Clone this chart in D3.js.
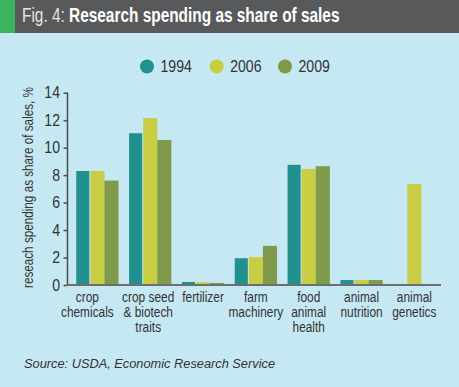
<!DOCTYPE html>
<html><head><meta charset="utf-8">
<script src="https://cdn.jsdelivr.net/npm/d3@7"></script>
<style>body{margin:0;padding:0;background:#c5e8f3;}svg{display:block;}</style>
</head><body>
<svg id="chart" width="459" height="387"></svg>
<script>
const categories = [["crop","chemicals"],["crop seed","& biotech","traits"],["fertilizer"],["farm","machinery"],["food","animal","health"],["animal","nutrition"],["animal","genetics"]];
const seriesNames = ["1994","2006","2009"];
const values1994 = [8.3, 11.05, 0.22, 1.95, 8.75, 0.36, null];
const values2006 = [8.3, 12.15, 0.2, 2.03, 8.45, 0.36, 7.35];
const values2009 = [7.6, 10.55, 0.15, 2.85, 8.65, 0.36, null];
const colors = ["#21908f", "#c9cd44", "#7e9a4a"];
const yTicks = [0, 2, 4, 6, 8, 10, 12, 14];

const font = "'Liberation Sans',Arial,sans-serif";
const svg = d3.select("#chart");
svg.append("rect").attr("width",459).attr("height",387).attr("fill","#c5e8f3");
svg.append("rect").attr("width",459).attr("height",33).attr("fill","#58595b");
svg.append("rect").attr("width",15).attr("height",33).attr("fill","#3db35f");

// condensed text helper: group scaled horizontally
function ctext(cx, cy, sx, anchor) {
  return svg.append("g").attr("transform", `translate(${cx},${cy}) scale(${sx},1)`)
    .append("text").attr("text-anchor", anchor).attr("fill","#333").style("font-family",font);
}

const title = ctext(22, 22, 0.79, "start").attr("fill","#fff").style("font-size","19.5px");
title.append("tspan").text("Fig. 4: ").attr("fill","#e6e6e6");
title.append("tspan").text("Research spending as share of sales").style("font-weight","bold");

const y = d3.scaleLinear().domain([0,14]).range([285, 92.7]);
const x0 = d3.scaleBand().domain(d3.range(categories.length)).range([68, 441]).paddingInner(0.2).paddingOuter(0.13).align(0.6);
const x1 = d3.scaleBand().domain(seriesNames).range([0, x0.bandwidth()]);

const seriesVals = [values1994, values2006, values2009];
seriesNames.forEach((s, si) => {
  svg.append("g").selectAll("rect").data(seriesVals[si].map((v,i)=>({v,i})).filter(d=>d.v!==null))
    .join("rect")
    .attr("x", d => x0(d.i) + x1(s))
    .attr("width", x1.bandwidth() - (si===0 ? 1 : 0))
    .attr("y", d => y(d.v))
    .attr("height", d => y(0) - y(d.v))
    .attr("fill", colors[si]);
});

// y axis
const yAxis = svg.append("g").attr("transform","translate(67.5,0)")
  .call(d3.axisLeft(y).tickValues(yTicks).tickSize(4).tickPadding(4).tickFormat(()=>""));
yAxis.select(".domain").attr("stroke","#4d4d4f").attr("stroke-width",1.5).attr("d","M0,92.7V285");
yAxis.selectAll(".tick line").attr("stroke","#4d4d4f").attr("stroke-width",1.5);
yTicks.forEach(t => {
  ctext(60, y(t) + 5.5, 0.88, "end").style("font-size","16px").text(t);
});

// x axis baseline
svg.append("line").attr("x1",66.5).attr("x2",441).attr("y1",285).attr("y2",285)
  .attr("stroke","#6d6e70").attr("stroke-width",2);

// x labels (first two nudged left as in the original layout)
const labelNudge = [-10, -2, 0, 0, 0, 0, 0];
categories.forEach((lines, i) => {
  const t = ctext(x0(i) + x0.bandwidth()/2 + labelNudge[i], 302, 0.82, "middle").style("font-size","14.5px");
  lines.forEach((l, li) => {
    t.append("tspan").attr("x", 0).attr("y", li*15).text(l);
  });
});

// y label
svg.append("text").attr("transform","translate(33,187.5) rotate(-90)").attr("text-anchor","middle")
  .attr("fill","#333").style("font-family",font).style("font-size","14px")
  .attr("textLength",201).attr("lengthAdjust","spacingAndGlyphs")
  .text("reseach spending as share of sales, %");

// legend
const legendX = [147, 216.7, 285];
seriesNames.forEach((s, si) => {
  svg.append("circle").attr("cx",legendX[si]).attr("cy",66.5).attr("r",7).attr("fill",colors[si]);
  ctext(legendX[si]+13.5, 72, 0.88, "start").style("font-size","16px").text(s);
});

// source
svg.append("text").attr("x",24).attr("y",368).attr("fill","#333")
  .style("font-family",font).style("font-style","italic").style("font-size","12.5px")
  .attr("textLength",251).attr("lengthAdjust","spacingAndGlyphs")
  .text("Source: USDA, Economic Research Service");
</script>
</body></html>
